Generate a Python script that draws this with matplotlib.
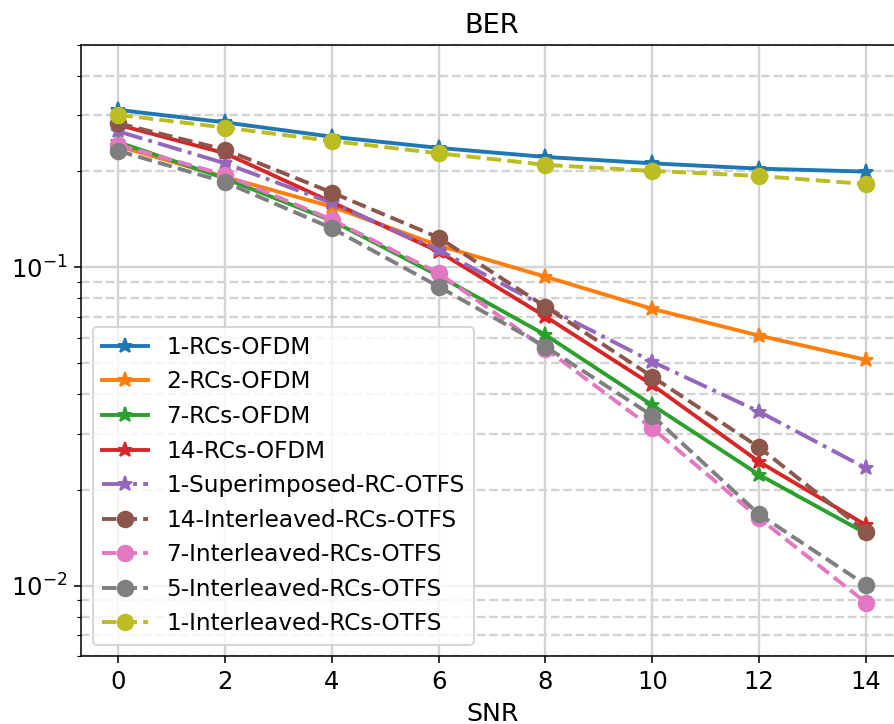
import matplotlib

matplotlib.use("Agg")
import matplotlib.pyplot as plt

snr = [0, 2, 4, 6, 8, 10, 12, 14]

ber_1rc_ofdm = [0.312, 0.285, 0.257, 0.237, 0.222, 0.212, 0.204, 0.1997]
ber_2rc_ofdm = [0.240, 0.192, 0.155, 0.117, 0.0934, 0.074, 0.061, 0.0512]
ber_7rc_ofdm = [0.247, 0.190, 0.140, 0.094, 0.0613, 0.0369, 0.0223, 0.0146]
ber_14rc_ofdm = [0.280, 0.228, 0.160, 0.112, 0.070, 0.0427, 0.0245, 0.0155]
ber_1sup_otfs = [0.267, 0.212, 0.159, 0.1133, 0.075, 0.0505, 0.0352, 0.0234]
ber_14int_otfs = [0.283, 0.234, 0.1716, 0.1239, 0.0752, 0.0453, 0.0272, 0.01478]
ber_7int_otfs = [0.242, 0.195, 0.141, 0.0958, 0.0555, 0.0312, 0.0163, 0.00885]
ber_5int_otfs = [0.232, 0.185, 0.1326, 0.0869, 0.0563, 0.0342, 0.01675, 0.01005]
ber_1int_otfs = [0.301, 0.2745, 0.249, 0.228, 0.2096, 0.2007, 0.1935, 0.1826]

DPI = 140
fig = plt.figure(figsize=(894 / DPI, 724 / DPI), dpi=DPI)
ax = fig.add_axes([0.0906, 0.0935, 0.9197, 0.8448])

ax.plot(snr, ber_1rc_ofdm, "-*", color="C0", lw=2, ms=8, label="1-RCs-OFDM")
ax.plot(snr, ber_2rc_ofdm, "-*", color="C1", lw=2, ms=8, label="2-RCs-OFDM")
ax.plot(snr, ber_7rc_ofdm, "-*", color="C2", lw=2, ms=8, label="7-RCs-OFDM")
ax.plot(snr, ber_14rc_ofdm, "-*", color="C3", lw=2, ms=8, label="14-RCs-OFDM")
ax.plot(snr, ber_1sup_otfs, "-.*", color="C4", lw=2, ms=8,
        label="1-Superimposed-RC-OTFS")
ax.plot(snr, ber_14int_otfs, "--o", color="C5", lw=2, ms=8,
        label="14-Interleaved-RCs-OTFS")
ax.plot(snr, ber_7int_otfs, "--o", color="C6", lw=2, ms=8,
        label="7-Interleaved-RCs-OTFS")
ax.plot(snr, ber_5int_otfs, "--o", color="C7", lw=2, ms=8,
        label="5-Interleaved-RCs-OTFS")
ax.plot(snr, ber_1int_otfs, "--o", color="C8", lw=2, ms=8,
        label="1-Interleaved-RCs-OTFS")

ax.set_yscale("log")
ax.set_xlim(-0.7, 14.7)
ax.set_ylim(0.006, 0.5)
ax.set_xticks(snr)
ax.grid(which="major", color="lightgray", lw=1.2)
ax.grid(which="minor", axis="y", color="lightgray", ls="--", lw=1.2)
ax.set_axisbelow(True)

ax.set_title("BER", fontsize=14)
ax.set_xlabel("SNR", fontsize=13)
ax.tick_params(labelsize=12.5)
ax.legend(loc="lower left", fontsize=11.9)

fig.savefig("out.png", dpi=DPI)
